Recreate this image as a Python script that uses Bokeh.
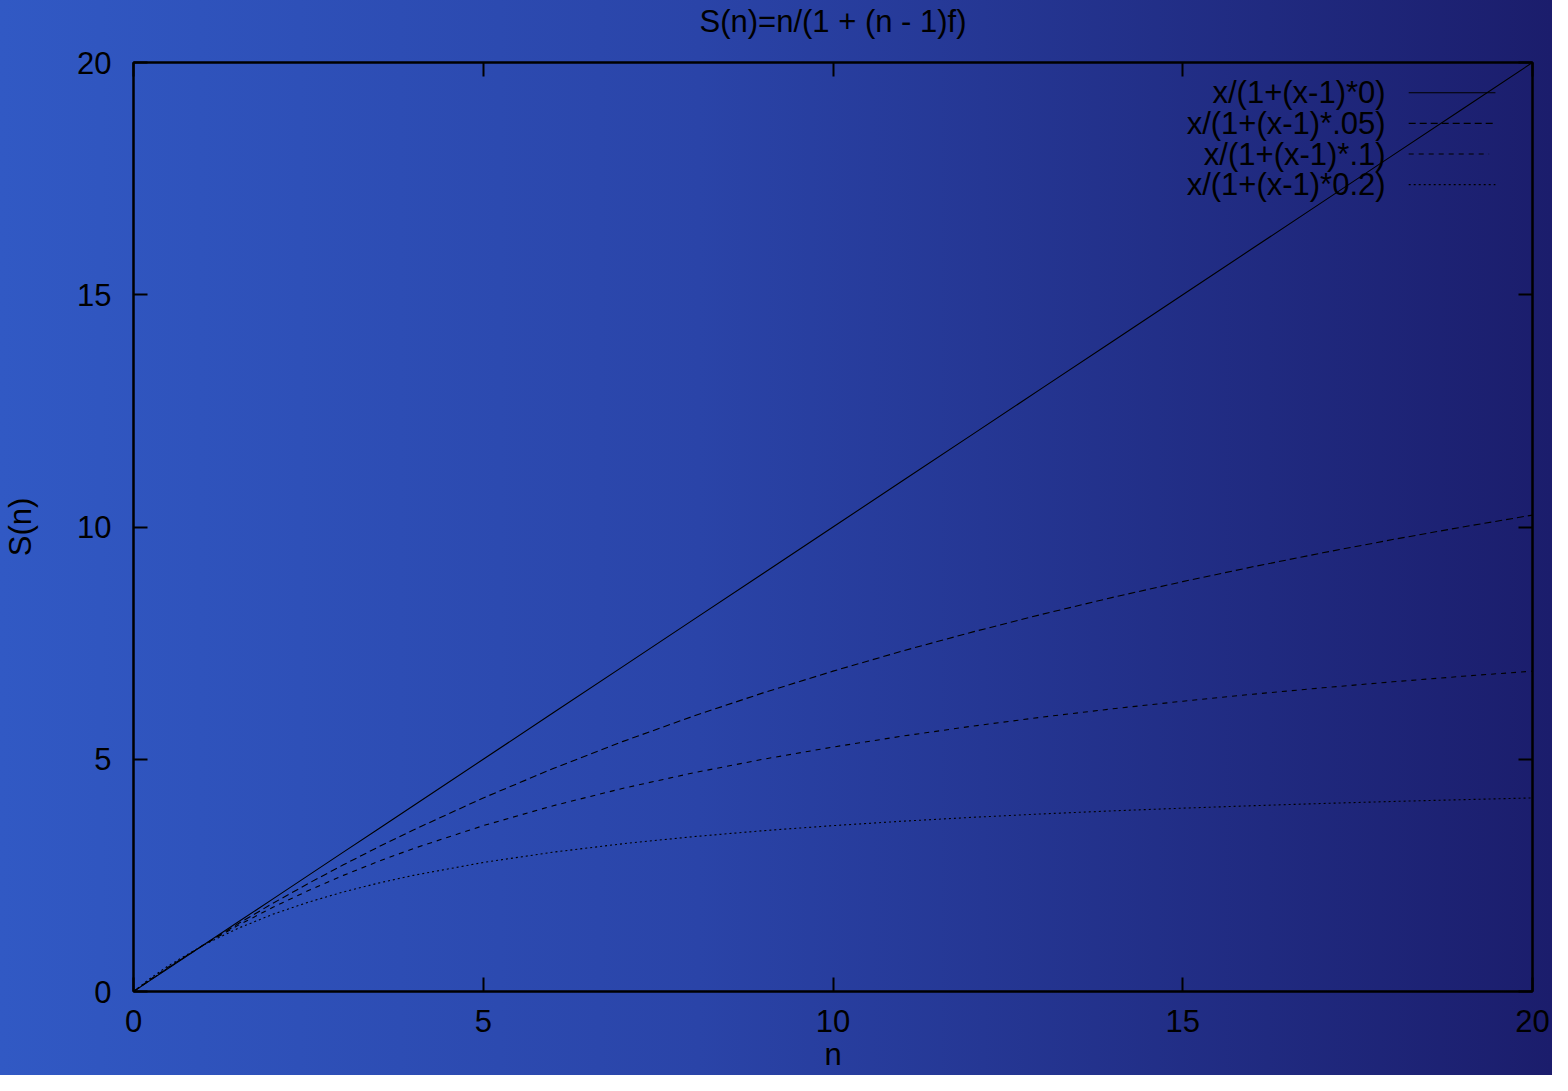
from bokeh.plotting import figure
from bokeh.models import Range1d, LinearAxis, SingleIntervalTicker, Label, Title
from bokeh.embed import file_html
from bokeh.resources import INLINE

# ---- data ----
n = [0, 0.25, 0.5, 1, 1.5, 2, 2.5, 3, 3.5, 4, 5, 6, 7, 8, 9, 10, 11, 12, 13, 14, 15, 16, 17, 18, 19, 20]
s_f0 = [0, 0.25, 0.5, 1, 1.5, 2, 2.5, 3, 3.5, 4, 5, 6, 7, 8, 9, 10, 11, 12, 13, 14, 15, 16, 17, 18, 19, 20]
s_f05 = [0, 0.260, 0.513, 1, 1.463, 1.905, 2.326, 2.727, 3.111, 3.478, 4.167, 4.8, 5.385, 5.926, 6.429,
         6.897, 7.333, 7.742, 8.125, 8.485, 8.824, 9.143, 9.444, 9.730, 10.0, 10.256]
s_f1 = [0, 0.270, 0.526, 1, 1.429, 1.818, 2.174, 2.5, 2.8, 3.077, 3.571, 4.0, 4.375, 4.706, 5.0,
        5.263, 5.5, 5.714, 5.909, 6.087, 6.25, 6.4, 6.538, 6.667, 6.786, 6.897]
s_f2 = [0, 0.294, 0.556, 1, 1.364, 1.667, 1.923, 2.143, 2.333, 2.5, 2.778, 3.0, 3.182, 3.333, 3.462,
        3.571, 3.667, 3.75, 3.824, 3.889, 3.947, 4.0, 4.048, 4.091, 4.130, 4.167]
series_labels = ["x/(1+(x-1)*0)", "x/(1+(x-1)*.05)", "x/(1+(x-1)*.1)", "x/(1+(x-1)*0.2)"]
title_text = "S(n)=n/(1 + (n - 1)f)"
x_label = "n"
y_label = "S(n)"

# ---- styles ----
FONT = "Liberation Sans"
FS = "31px"
dashes = ["solid", "7 4", "5 5", "2 3"]
series = [s_f0, s_f05, s_f1, s_f2]

p = figure(width=1552, height=1075, output_backend="svg", toolbar_location=None,
           x_range=Range1d(0, 20), y_range=Range1d(0, 20),
           min_border_left=132, min_border_right=20, min_border_top=62, min_border_bottom=84)

p.styles = {"background": "linear-gradient(to right, #3159c4 0%, #2a44a8 45%, #1b1d6c 100%)"}
p.border_fill_alpha = 0
p.background_fill_alpha = 0
p.outline_line_color = "black"
p.outline_line_width = 2
p.grid.visible = False

# trailing empty line lifts the title away from the frame
p.title.text = title_text + "\n"
p.title.text_line_height = 0.57
p.title.align = "center"
p.title.text_font = FONT
p.title.text_font_size = FS
p.title.text_font_style = "normal"
p.title.text_color = "black"
p.title.offset = 0
p.title.standoff = 0

ticker = SingleIntervalTicker(interval=5)

def style_axis(ax, labels=True):
    ax.ticker = ticker
    ax.axis_line_color = "black"
    ax.axis_line_width = 2
    ax.major_tick_line_color = "black"
    ax.major_tick_line_width = 2
    ax.major_tick_in = 14
    ax.major_tick_out = 0
    ax.minor_tick_line_color = None
    ax.major_label_text_font = FONT
    ax.major_label_text_font_size = FS
    ax.major_label_text_color = "black"
    ax.axis_label_text_font = FONT
    ax.axis_label_text_font_size = FS
    ax.axis_label_text_font_style = "normal"
    ax.axis_label_text_color = "black"
    if not labels:
        ax.major_label_text_font_size = "0px"
        ax.major_label_text_alpha = 0
        ax.major_label_standoff = 0

style_axis(p.xaxis[0])
style_axis(p.yaxis[0])
p.yaxis[0].axis_label = y_label
p.xaxis[0].major_label_standoff = 14
p.yaxis[0].major_label_standoff = 18
p.yaxis[0].axis_label_standoff = 36

ax_r = LinearAxis()
style_axis(ax_r, labels=False)
p.add_layout(ax_r, "right")
ax_t = LinearAxis()
style_axis(ax_t, labels=False)
p.add_layout(ax_t, "above")

# x-axis label as a bottom title aligned to the lower edge
xt = Title(text=x_label, align="center", vertical_align="bottom", text_font=FONT, text_font_size=FS,
           text_font_style="normal", text_color="black", offset=0, standoff=0)
p.add_layout(xt, "below")

for ys, d in zip(series, dashes):
    p.line(n, ys, line_color="black", line_width=1.1, line_dash=d)

# ---- key (legend) ----
key_text_x = 17.9
key_x0, key_x1 = 18.23, 19.47
key_rows = [19.35, 18.69, 18.03, 17.37]
for lab, d, yr in zip(series_labels, dashes, key_rows):
    p.add_layout(Label(x=key_text_x, y=yr, text=lab, text_align="right", text_baseline="middle",
                       text_font=FONT, text_font_size=FS, text_color="black"))
    x1 = key_x1 if d != "5 5" else key_x1 - 0.09
    p.segment(x0=[key_x0], y0=[yr], x1=[x1], y1=[yr], line_color="black", line_width=1.1, line_dash=d)

open("out.html", "w").write(file_html(p, INLINE))
